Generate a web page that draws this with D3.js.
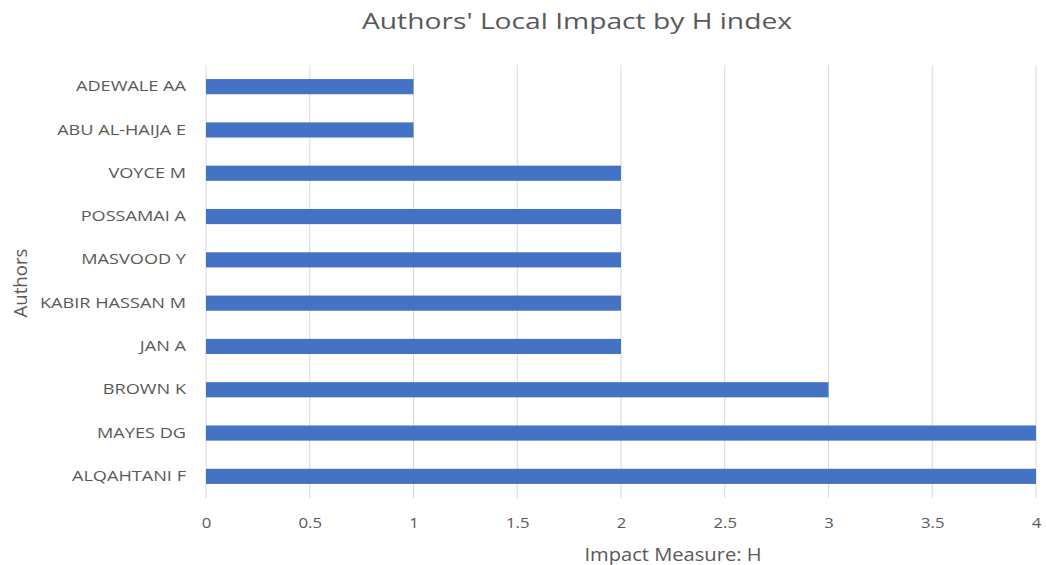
<!DOCTYPE html>
<html><head><meta charset="utf-8">
<script src="https://cdn.jsdelivr.net/npm/d3@7"></script>
<style>body{margin:0;background:#fff;} text{font-family:"Open Sans",sans-serif;}</style>
</head><body><svg id="c" width="1046" height="565"></svg>
<script>
const authors = ["ADEWALE AA","ABU AL-HAIJA E","VOYCE M","POSSAMAI A","MASVOOD Y","KABIR HASSAN M","JAN A","BROWN K","MAYES DG","ALQAHTANI F"];
const hIndex = [1,1,2,2,2,2,2,3,4,4];
const xTicks = [0,0.5,1,1.5,2,2.5,3,3.5,4];
const titleText = "Authors' Local Impact by H index";
const xTitle = "Impact Measure: H";
const yTitle = "Authors";

(function(){
const svg = d3.select("#c");
const pL=206, pR=1036, pT=65, pB=498;
const x = d3.scaleLinear().domain([0,4]).range([pL,pR]);
const y = d3.scaleBand().domain(authors).range([pT,pB]).paddingInner(0.65).paddingOuter(0.325);

function stretch(sel, f){
  sel.each(function(){
    const w = this.getComputedTextLength();
    d3.select(this).attr("textLength", w*f).attr("lengthAdjust","spacingAndGlyphs");
  });
}

svg.append("g").selectAll("line").data(xTicks).join("line")
  .attr("x1",d=>x(d)).attr("x2",d=>x(d)).attr("y1",pT).attr("y2",pB)
  .attr("stroke","#d9d9d9").attr("stroke-width",1);

svg.append("g").selectAll("rect").data(authors).join("rect")
  .attr("x",x(0)).attr("y",d=>y(d)).attr("height",y.bandwidth())
  .attr("width",(d,i)=>x(hIndex[i])-x(0)).attr("fill","#4472C4");

const xa = d3.axisBottom(x).tickValues(xTicks).tickSize(0).tickPadding(0).tickFormat(d3.format("~g"));
const gx = svg.append("g").attr("transform",`translate(0,${pB})`).call(xa);
gx.select(".domain").remove();
gx.selectAll("text").attr("y",30).attr("dy",0).attr("fill","#595959").style("font-size","14.5px");
stretch(gx.selectAll("text"), 1.15);

const ya = d3.axisLeft(y).tickSize(0).tickPadding(20);
const gy = svg.append("g").attr("transform",`translate(${pL},0)`).call(ya);
gy.select(".domain").remove();
gy.selectAll("text").attr("fill","#595959").style("font-size","14.5px");
stretch(gy.selectAll("text"), 1.25);

const t = svg.append("text").attr("x",577).attr("y",29).attr("text-anchor","middle")
  .attr("fill","#595959").style("font-size","21px").text(titleText);
t.attr("textLength",430).attr("lengthAdjust","spacingAndGlyphs");
const xt = svg.append("text").attr("x",673).attr("y",561).attr("text-anchor","middle")
  .attr("fill","#595959").style("font-size","18px").text(xTitle);
xt.attr("textLength",177).attr("lengthAdjust","spacingAndGlyphs");
const yt = svg.append("text").attr("transform","translate(27,283) rotate(-90)").attr("text-anchor","middle")
  .attr("fill","#595959").style("font-size","18px").text(yTitle);
yt.attr("textLength",69).attr("lengthAdjust","spacingAndGlyphs");
})();
</script></body></html>
